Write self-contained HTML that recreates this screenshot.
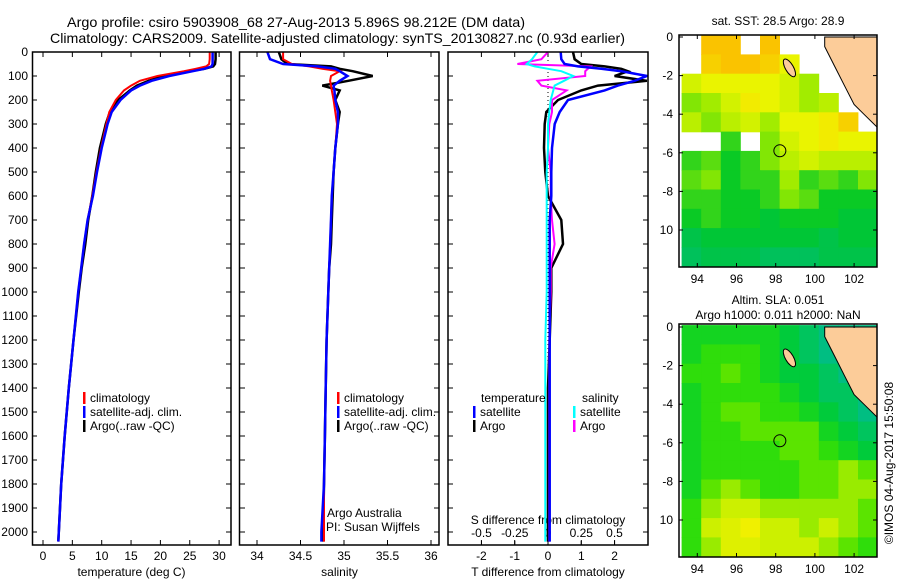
<!DOCTYPE html>
<html><head><meta charset="utf-8"><style>
body{margin:0;background:#fff}
svg{display:block;font-family:"Liberation Sans",sans-serif}
text{font-size:12px;fill:#000}
</style></head><body>
<svg id="c" width="900" height="580" viewBox="0 0 900 580">
<text x="67" y="27" style="font-size:14px" textLength="458" lengthAdjust="spacingAndGlyphs">Argo profile: csiro 5903908_68 27-Aug-2013 5.896S 98.212E (DM data)</text>
<text x="50" y="43" style="font-size:14px" textLength="575" lengthAdjust="spacingAndGlyphs">Climatology: CARS2009. Satellite-adjusted climatology: synTS_20130827.nc (0.93d earlier)</text>
<text transform="translate(893,463) rotate(-90)" text-anchor="middle">©IMOS 04-Aug-2017 15:50:08</text>
</svg>
<script>
// ---------- data ----------
const depthTicks=[0,100,200,300,400,500,600,700,800,900,1000,1100,1200,1300,1400,1500,1600,1700,1800,1900,2000];
const tempTicks=[0,5,10,15,20,25,30];
const salTicks=[34,34.5,35,35.5,36];
const tdiffTicks=[-2,-1,0,1,2];
const sdiffTicks=[-0.5,-0.25,0,0.25,0.5];
const sdiffLabels=["-0.5","-0.25","0","0.25","0.5"];
const depths=[0,30,50,60,70,80,100,120,140,160,200,250,300,400,500,600,700,800,900,1000,1200,1400,1600,1800,2000,2040];
const tempClim=[28.4,28.4,28.3,27.8,26,24,19.5,16.5,15,13.8,12.4,11.3,10.8,9.9,9.1,8.4,7.6,7.0,6.5,6.0,5.2,4.4,3.7,3.1,2.7,2.6];
const tempSat=[28.9,28.9,28.9,28.7,27.5,25.5,21.5,18.5,16.5,15,13.2,11.7,11.0,10.0,9.2,8.5,7.6,7.0,6.5,6.0,5.2,4.4,3.7,3.1,2.7,2.6];
const tempArgo=[29.4,29.4,29.3,29.0,27.5,25,20.5,18,16,14.8,12.8,11.4,10.7,9.7,9.0,8.4,7.7,7.2,6.6,6.1,5.2,4.4,3.7,3.1,2.7,2.6];
const salClim=[34.3,34.3,34.4,34.6,34.75,34.95,34.85,34.84,34.85,34.86,34.88,34.9,34.92,34.9,34.88,34.86,34.85,34.84,34.83,34.82,34.8,34.79,34.78,34.77,34.77,34.77];
const salSat=[34.12,34.15,34.3,34.7,34.9,34.95,35.04,34.95,34.88,34.89,34.9,34.93,34.93,34.9,34.88,34.86,34.85,34.84,34.83,34.82,34.8,34.79,34.78,34.77,34.74,34.74];
const salArgo=[34.25,34.28,34.35,34.85,34.95,35.1,35.33,35.05,34.75,34.95,34.9,34.95,34.93,34.9,34.88,34.87,34.86,34.85,34.83,34.82,34.8,34.79,34.78,34.77,34.76,34.76];
const tdiffSat=[0.38,0.4,0.5,0.9,1.6,2.2,2.97,2.6,2.1,1.7,0.6,0.35,0.2,0.12,0.1,0.1,0.05,0.05,0.05,0.05,0.05,0.05,0.05,0.05,0.05,0.05];
const tdiffArgo=[0.75,0.8,1.0,1.7,2.2,2.4,2.0,2.97,1.5,1.0,0.3,-0.05,-0.1,-0.12,-0.08,0.0,0.4,0.45,0.1,0.1,0.05,0.0,0.0,0.0,0.0,0.0];
const sdiffSat=[-0.08,-0.12,-0.16,-0.1,0.0,0.1,0.19,0.12,0.05,0.04,0.02,0.01,0.0,0.0,-0.01,-0.01,-0.01,-0.01,-0.01,-0.01,-0.02,-0.02,-0.02,-0.02,-0.02,-0.02];
const sdiffArgo=[0.0,-0.05,-0.23,0.32,0.3,0.28,0.28,-0.08,-0.05,0.14,0.03,0.03,0.01,0.0,0.02,0.02,0.03,0.05,0.02,0.02,0.01,0.01,0.01,0.01,0.01,0.01];
const mapLonTicks=[94,96,98,100,102];
const mapLatTicks=[0,-2,-4,-6,-8,-10];
const mapLatLabels=["0","-2","-4","-6","-8","10"];
const gridLon0=93.2;
const sstGrid=[
[null,29,29,null,29,null,null,null,null,null],
[null,28.9,29,29,28.9,28.6,null,null,null,null],
[28.5,28.6,28.6,28.6,28.6,28.5,28.3,null,null,null],
[28.2,28.3,28.5,28.7,28.6,28.5,28.3,28.4,null,null],
[28.4,28.2,28.4,28.5,28.3,28.6,28.6,28.7,28.9,null],
[null,null,28.0,null,28.2,28.5,28.6,28.7,28.6,28.6],
[28.0,28.1,27.9,28.0,28.2,28.4,28.5,28.4,28.4,28.4],
[28.1,28.2,27.9,28.0,28.0,28.3,28.0,28.1,28.0,28.2],
[28.0,28.0,27.9,27.9,28.0,28.2,28.1,27.9,27.9,27.9],
[27.9,28.0,27.9,27.9,27.8,27.9,27.9,27.9,27.8,27.8],
[27.7,27.8,27.8,27.8,27.8,27.8,27.8,27.7,27.8,27.8],
[27.6,27.7,27.7,27.7,27.6,27.6,27.6,27.7,27.7,27.7]];
const slaGrid=[
[.04,.04,.04,.04,.04,.03,.02,.01,.01,.01],
[.04,.05,.05,.05,.04,.03,.02,.01,.01,.01],
[.05,.05,.06,.05,.04,.03,.03,.02,.01,.01],
[.04,.05,.05,.05,.05,.04,.03,.02,.02,.01],
[.04,.05,.06,.06,.05,.05,.04,.03,.02,.01],
[.04,.05,.05,.06,.06,.06,.06,.04,.03,.02],
[.04,.05,.05,.05,.05,.06,.06,.05,.04,.03],
[.04,.05,.05,.05,.05,.05,.06,.06,.07,.06],
[.04,.06,.07,.06,.05,.05,.06,.06,.07,.07],
[.05,.07,.08,.08,.07,.07,.07,.07,.07,.06],
[.05,.08,.09,.10,.08,.08,.07,.08,.07,.06],
[.05,.07,.09,.09,.08,.08,.08,.07,.06,.05]];
const landLon=[100.5,100.5,101,101.5,102,102.5,103.3,103.3];
const landLat=[0,-0.5,-1.5,-2.5,-3.5,-4,-4.8,0];
const argoLon=98.212, argoLat=-5.896;

// ---------- helpers ----------
const svg=document.getElementById('c');
const NS='http://www.w3.org/2000/svg';
function mk(tag,attrs,parent){const e=document.createElementNS(NS,tag);for(const k in attrs)e.setAttribute(k,attrs[k]);(parent||svg).appendChild(e);return e;}
const Y=d=>52+d*0.24;
function frame(x0,x1,y0,y1,name){
  const r=mk('rect',{x:x0,y:y0,width:x1-x0,height:y1-y0,fill:'none',stroke:'#000','stroke-width':1.5});
  
  
}
function xaxis(x0,x1,yb,ticks,labels,X,title,name){
  const g=mk('g',{});
  
  
  ticks.forEach((v,i)=>{const x=X(v);
    mk('line',{x1:x,x2:x,y1:yb,y2:yb-5,stroke:'#000'},g);
    mk('line',{x1:x,x2:x,y1:52,y2:57,stroke:'#000'},g);
    const t=mk('text',{x:x,y:yb+15,'text-anchor':'middle'},g);t.textContent=labels?labels[i]:String(v);});
  if(title){const t=mk('text',{x:(x0+x1)/2,y:yb+31,'text-anchor':'middle'},g);t.textContent=title;}
}
function line(xs,X,color,w,name,clip){
  const p=xs.map((v,i)=>X(v).toFixed(1)+','+Y(depths[i]).toFixed(1)).join(' ');
  const e=mk('polyline',{points:p,fill:'none',stroke:color,'stroke-width':w,'clip-path':clip||''});
  
  
}
function legend(x,y,items,name){
  const g=mk('g',{});
  
  
  items.forEach((it,i)=>{
    mk('rect',{x:x,y:y+i*14-10,width:2.5,height:12,fill:it[1]},g);
    const t=mk('text',{x:x+7,y:y+i*14},g);t.textContent=it[0];});
}
const defs=mk('defs',{});
[[32,231],[240,439],[448,648]].forEach((b,i)=>{const c=mk('clipPath',{id:'cp'+i},defs);mk('rect',{x:b[0],y:52,width:b[1]-b[0],height:493},c);});

// ---------- panel 1: temperature ----------
const XT=v=>43+v*5.87;
depthTicks.forEach(d=>{const y=Y(d);
  mk('line',{x1:32,x2:37,y1:y,y2:y,stroke:'#000'});mk('line',{x1:226,x2:231,y1:y,y2:y,stroke:'#000'});
  const t=mk('text',{x:28,y:y+4,'text-anchor':'end'});
  
  
  t.textContent=d;});
xaxis(32,231,545,tempTicks,null,XT,'temperature (deg C)','temperature-x-axis');
line(tempArgo,XT,'#000',2.5,'temp-argo-line','url(#cp0)');
line(tempClim,XT,'#f00',2,'temp-climatology-line','url(#cp0)');
line(tempSat,XT,'#00f',2.5,'temp-satellite-line','url(#cp0)');
frame(32.5,231,52,545,'temperature-panel-frame');
legend(83,402,[['climatology','#f00'],['satellite-adj. clim.','#00f'],['Argo(..raw -QC)','#000']],'temperature-legend');

// ---------- panel 2: salinity ----------
const XS=v=>257+(v-34)*87;
depthTicks.forEach(d=>{const y=Y(d);mk('line',{x1:240,x2:245,y1:y,y2:y,stroke:'#000'});mk('line',{x1:434,x2:439,y1:y,y2:y,stroke:'#000'});});
xaxis(240,439,545,salTicks,null,XS,'salinity','salinity-x-axis');
line(salArgo,XS,'#000',2.5,'salinity-argo-line','url(#cp1)');
line(salClim,XS,'#f00',2,'salinity-climatology-line','url(#cp1)');
line(salSat,XS,'#00f',2.5,'salinity-satellite-line','url(#cp1)');
frame(239.5,439,52,545,'salinity-panel-frame');
legend(337,402,[['climatology','#f00'],['satellite-adj. clim.','#00f'],['Argo(..raw -QC)','#000']],'salinity-legend');
{const t=mk('text',{x:327,y:517});t.textContent='Argo Australia';
 const u=mk('text',{x:326,y:531});u.textContent='PI: Susan Wijffels';}

// ---------- panel 3: differences ----------
const XD=v=>548+v*33.3, XSD=v=>548+v*133;
depthTicks.forEach(d=>{const y=Y(d);mk('line',{x1:448,x2:453,y1:y,y2:y,stroke:'#000'});mk('line',{x1:643,x2:648,y1:y,y2:y,stroke:'#000'});});
mk('line',{x1:548,x2:548,y1:52,y2:545,stroke:'#000','stroke-dasharray':'1,3'});
xaxis(448,648,545,tdiffTicks,null,XD,'T difference from climatology','tdiff-x-axis');
{const g=mk('g',{});
 sdiffTicks.forEach((v,i)=>{const x=XSD(v);mk('line',{x1:x,x2:x,y1:545,y2:541,stroke:'#000'},g);const t=mk('text',{x:x,y:537,'text-anchor':'middle'},g);t.textContent=sdiffLabels[i];});
 const t=mk('text',{x:548,y:524,'text-anchor':'middle'},g);t.textContent='S difference from climatology';}
line(tdiffArgo,XD,'#000',2.5,'tdiff-argo-line','url(#cp2)');
line(sdiffArgo,XSD,'#f0f',2,'sdiff-argo-line','url(#cp2)');
line(tdiffSat,XD,'#00f',2.5,'tdiff-satellite-line','url(#cp2)');
line(sdiffSat,XSD,'#0ff',2,'sdiff-satellite-line','url(#cp2)');
frame(448,648,52,545,'difference-panel-frame');
{const t=mk('text',{x:481,y:402});t.textContent='temperature';
 const s=mk('text',{x:582,y:402});s.textContent='salinity';}
legend(473,416,[['satellite','#00f'],['Argo','#000']],'tdiff-legend');
legend(573,416,[['satellite','#0ff'],['Argo','#f0f']],'sdiff-legend');

// ---------- maps ----------
function lerp(a,b,t){return a.map((v,i)=>Math.round(v+(b[i]-v)*t));}
function ramp(stops,t){t=Math.max(0,Math.min(1,t));const n=stops.length-1;const i=Math.min(n-1,Math.floor(t*n));const c=lerp(stops[i],stops[i+1],t*n-i);return 'rgb('+c.join(',')+')';}
const sstStops=[[0,190,110],[0,200,40],[150,235,0],[240,245,0],[250,195,0]];
const slaStops=[[0,190,130],[0,205,50],[60,225,0],[200,240,0],[240,240,0]];
function map(top,bottom,lat0y,grid,vmin,vmax,stops,name,titles){
  const L=679,R=877,MX=v=>697.3+(v-94)*19.6,MY=v=>lat0y-v*19.3;
  const g=mk('g',{});
  
  
  const cid='mc'+top;const c=mk('clipPath',{id:cid},defs);mk('rect',{x:L,y:top,width:R-L,height:bottom-top},c);
  const cg=mk('g',{'clip-path':'url(#'+cid+')'},g);
  grid.forEach((row,r)=>row.forEach((v,ci)=>{if(v===null)return;
    const x0=MX(gridLon0+ci),y0=MY(-r+0.1);
    const cell=mk('rect',{x:x0.toFixed(1),y:y0.toFixed(1),width:20,height:20,fill:ramp(stops,(v-vmin)/(vmax-vmin))},cg);
    
    }));
  const pts=landLon.map((v,i)=>MX(v).toFixed(1)+','+MY(landLat[i]).toFixed(1)).join(' ');
  const land=mk('polygon',{points:pts,fill:'#fccc99',stroke:'#000','stroke-width':1},cg);
  
  
  const isl=mk('ellipse',{cx:MX(98.7),cy:MY(-1.6),rx:4,ry:10,fill:'#fccc99',stroke:'#000',transform:'rotate(-30 '+MX(98.7)+' '+MY(-1.6)+')'},cg);
  
  
  const circ=mk('circle',{cx:MX(argoLon),cy:MY(argoLat),r:6,fill:'none',stroke:'#000'},g);
  
  
  mk('rect',{x:L,y:top,width:R-L,height:bottom-top,fill:'none',stroke:'#000','stroke-width':1.5},g);
  mapLonTicks.forEach(v=>{const x=MX(v);mk('line',{x1:x,x2:x,y1:bottom,y2:bottom-4,stroke:'#000'},g);mk('line',{x1:x,x2:x,y1:top,y2:top+4,stroke:'#000'},g);
    const t=mk('text',{x:x,y:bottom+16,'text-anchor':'middle'},g);t.textContent=v;});
  mapLatTicks.forEach((v,i)=>{const y=MY(v);mk('line',{x1:L,x2:L+4,y1:y,y2:y,stroke:'#000'},g);mk('line',{x1:R,x2:R-4,y1:y,y2:y,stroke:'#000'},g);
    const t=mk('text',{x:673,y:y+4,'text-anchor':'end'},g);t.textContent=mapLatLabels[i];});
  titles.forEach((s,i)=>{const t=mk('text',{x:778,y:titles.length==1?top-10:top-20+i*15,'text-anchor':'middle'},g);t.textContent=s;});
}
map(35,267,37,sstGrid,27.5,29.0,sstStops,'sst-map',['sat. SST: 28.5 Argo: 28.9']);
map(324,557,327,slaGrid,0.01,0.1,slaStops,'sla-map',['Altim. SLA: 0.051','Argo h1000: 0.011 h2000: NaN']);
</script>
</body></html>
